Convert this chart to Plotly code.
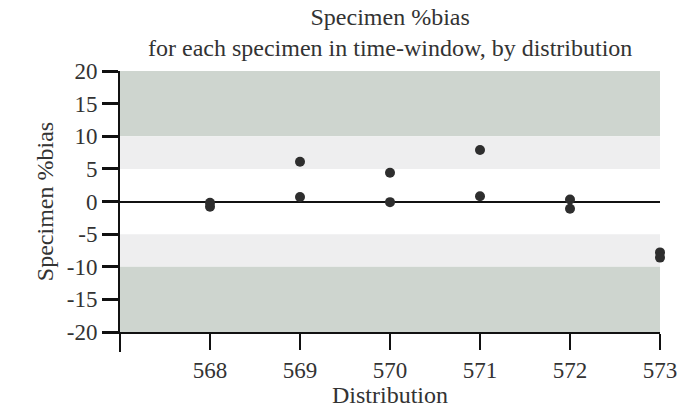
import plotly.graph_objects as go

distribution = [568, 568, 569, 569, 570, 570, 571, 571, 572, 572, 573, 573]
bias_pct = [-0.2, -0.8, 6.1, 0.7, 4.4, -0.1, 7.9, 0.8, 0.3, -1.1, -7.8, -8.6]
x_ticks = [568, 569, 570, 571, 572, 573]
y_ticks = [-20, -15, -10, -5, 0, 5, 10, 15, 20]
bands = [(10, 20, "#ced5cf"), (5, 10, "#eeeeef"), (-10, -5, "#eeeeef"), (-20, -10, "#ced5cf")]
title_text = "Specimen %bias<br>for each specimen in time-window, by distribution"

FONT = "Liberation Serif"

fig = go.Figure()
fig.add_trace(go.Scatter(
    x=distribution, y=bias_pct, mode="markers",
    marker=dict(size=10, color="#2e2e2e"),
    showlegend=False, cliponaxis=False,
))

for lo, hi, col in bands:
    fig.add_shape(type="rect", xref="paper", yref="y", x0=0, x1=1, y0=lo, y1=hi,
                  fillcolor=col, line=dict(width=0), layer="below")

# downward extension of the y axis line below the plot
fig.add_shape(type="line", xref="paper", yref="paper", x0=0, x1=0, y0=0, y1=-0.077,
              line=dict(color="#111", width=2), layer="above")

fig.add_annotation(
    text=title_text, xref="paper", yref="paper", x=0.5, y=1, xanchor="center",
    yanchor="bottom", yshift=8, showarrow=False,
    font=dict(family=FONT, size=24, color="#333"),
)

fig.update_layout(
    width=678, height=408,
    margin=dict(l=120, r=18, t=71, b=76),
    paper_bgcolor="white", plot_bgcolor="white",
    font=dict(family=FONT, color="#333", size=24),
    xaxis=dict(
        range=[567, 573], tickvals=x_ticks, ticktext=[str(v) for v in x_ticks],
        ticks="outside", ticklen=16, tickwidth=2, tickcolor="#111",
        showline=True, linecolor="#111", linewidth=2,
        showgrid=False, zeroline=False, automargin=False,
        title=dict(text="Distribution", standoff=0, font=dict(size=24)),
        tickfont=dict(size=23),
    ),
    yaxis=dict(
        range=[-20, 20], tickvals=y_ticks, ticktext=[str(v) for v in y_ticks],
        ticks="outside", ticklen=16, tickwidth=3, tickcolor="#111",
        showline=True, linecolor="#111", linewidth=2,
        showgrid=False, zeroline=True, zerolinecolor="#111", zerolinewidth=2,
        automargin=False,
        title=dict(text="Specimen %bias", standoff=6, font=dict(size=24)),
        tickfont=dict(size=23),
    ),
)

fig.write_html("out.html")
